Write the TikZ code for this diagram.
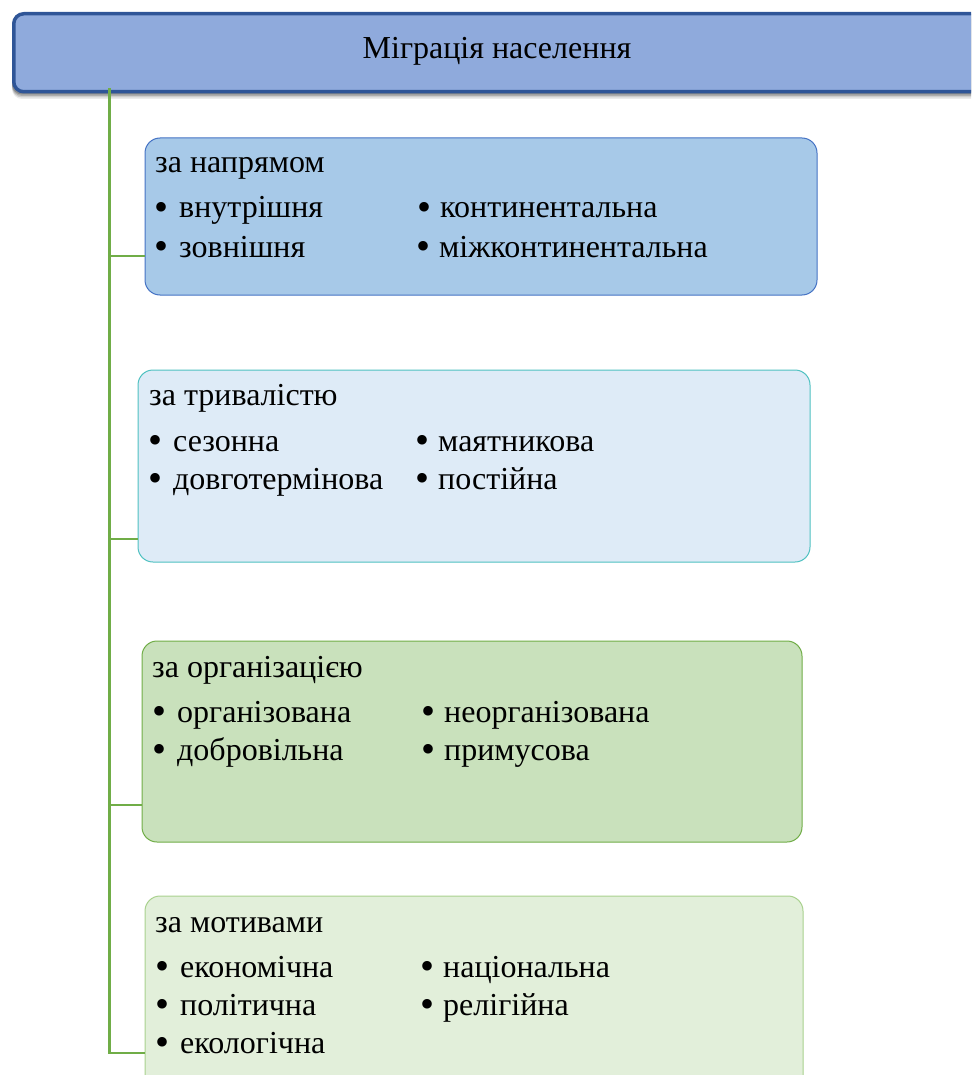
\documentclass[tikz,border=0pt]{standalone}
\usepackage{fontspec}
\setmainfont{Liberation Serif}
\definecolor{titlefill}{HTML}{8FAADC}
\definecolor{titledraw}{HTML}{2F5597}
\definecolor{aFill}{HTML}{A7C9E8}
\definecolor{aDraw}{HTML}{4472C4}
\definecolor{bFill}{HTML}{DEEBF7}
\definecolor{bDraw}{HTML}{4FC1C1}
\definecolor{cFill}{HTML}{C9E1BC}
\definecolor{cDraw}{HTML}{70AD47}
\definecolor{dFill}{HTML}{E2EFDA}
\definecolor{dDraw}{HTML}{A9D18E}
\definecolor{linkc}{HTML}{70AD47}
\newcommand{\bl}{\raisebox{-2.6pt}{\scalebox{1.25}{•}}\hspace{11pt}}
\newcommand{\br}{\raisebox{-2.6pt}{\scalebox{1.25}{•}}\hspace{9pt}}
\tikzset{
  catbox/.style={rounded corners=15pt, line width=1pt},
  txt/.style={anchor=base west, inner sep=0pt, font=\fontsize{32}{38}\selectfont},
  link/.style={draw=linkc, line width=3pt},
  hlink/.style={draw=linkc, line width=2.5pt}
}
\begin{document}
\begin{tikzpicture}[x=1pt,y=-1pt]
\useasboundingbox (0,0) rectangle (971,1075);
\clip (0,0) rectangle (971,1075);
% title bar shadow
\foreach \o/\a in {7/0.08,5.5/0.12,4/0.16,2.5/0.2}{
  \fill[black, opacity=\a, rounded corners=10pt] (12,{12+\o}) rectangle (1000,{92+\o});
}
\node[draw=titledraw, fill=titlefill, line width=3.5pt, rounded corners=10pt,
  minimum width=1000pt, minimum height=78pt, anchor=north west, inner sep=0pt] (title) at (12,12) {};
\node[txt, anchor=base] (titletext) at (497,59) {Міграція населення};
% boxes
\path[catbox, draw=aDraw, fill=aFill] (145,138) rectangle (817,295);
\path[catbox, draw=bDraw, fill=bFill] (138,370) rectangle (810,562);
\path[catbox, draw=cDraw, fill=cFill] (142,641) rectangle (802,842);
\path[catbox, draw=dDraw, fill=dFill] (145,896) rectangle (803,1090);
\coordinate (A) at (145,256);
\coordinate (B) at (138,539);
\coordinate (C) at (142,805);
\coordinate (D) at (145,1053);
\coordinate (top) at (109,88);
\draw[link] (top) -- (109,1053);
\draw[hlink] (108,1053) -- (D);
\draw[hlink] (109,256) -- (A);
\draw[hlink] (109,539) -- (B);
\draw[hlink] (109,805) -- (C);
% box 1
\node[txt] (a0) at (155,173) {за напрямом};
\node[txt] (a1) at (154,218) {\bl внутрішня};
\node[txt] (a2) at (154,257) {\bl зовнішня};
\node[txt] (a3) at (417,218) {\br континентальна};
\node[txt] (a4) at (416,257) {\br міжконтинентальна};
% box 2
\node[txt] (b0) at (149,405) {за тривалістю};
\node[txt] (b1) at (148,451) {\bl сезонна};
\node[txt] (b2) at (148,489) {\bl довготермінова};
\node[txt] (b3) at (415,451) {\br маятникова};
\node[txt] (b4) at (415,489) {\br постійна};
% box 3
\node[txt] (c0) at (152,677) {за організацією};
\node[txt] (c1) at (152,722) {\bl організована};
\node[txt] (c2) at (152,760) {\bl добровільна};
\node[txt] (c3) at (421,722) {\br неорганізована};
\node[txt] (c4) at (421,760) {\br примусова};
% box 4
\node[txt] (d0) at (155,932) {за мотивами};
\node[txt] (d1) at (155,977) {\bl економічна};
\node[txt] (d2) at (155,1015) {\bl політична};
\node[txt] (d3) at (155,1053) {\bl екологічна};
\node[txt] (d4) at (420,977) {\br національна};
\node[txt] (d5) at (420,1015) {\br релігійна};
\end{tikzpicture}
\end{document}
